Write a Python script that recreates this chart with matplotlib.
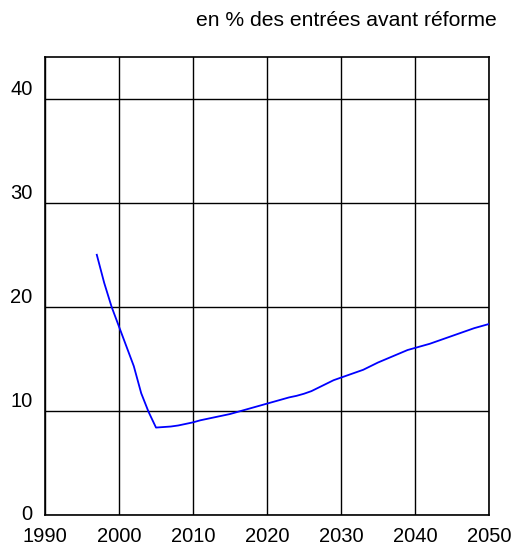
import matplotlib
matplotlib.use("Agg")
import matplotlib.pyplot as plt

# part des entrées (en % des entrées avant réforme)
years = list(range(1997, 2051))
values = [25.0, 22.3, 20.0, 18.1, 16.2, 14.3, 11.7, 9.9, 8.4, 8.45,
          8.5, 8.6, 8.75, 8.9, 9.1, 9.25, 9.4, 9.55, 9.7, 9.9,
          10.1, 10.3, 10.5, 10.7, 10.9, 11.1, 11.3, 11.45, 11.65, 11.9,
          12.25, 12.6, 12.95, 13.2, 13.45, 13.7, 13.95, 14.3, 14.65, 14.95,
          15.25, 15.55, 15.85, 16.05, 16.25, 16.45, 16.7, 16.95, 17.2, 17.45,
          17.7, 17.95, 18.15, 18.35]

xticks = [1990, 2000, 2010, 2020, 2030, 2040, 2050]
yticks = [0, 10, 20, 30, 40]
title = "en % des entrées avant réforme"

plt.rcParams['font.family'] = ['Liberation Sans', 'DejaVu Sans']

W, H = 513, 547
fig = plt.figure(figsize=(W / 100, H / 100), dpi=100)
ax = fig.add_axes([45 / W, (H - 515) / H, 444 / W, (515 - 57) / H])

ax.plot(years, values, color="#0000ff", lw=1.3, zorder=3)

ax.set_xlim(1990, 2050)
ax.set_ylim(0, 44)
ax.set_xticks(xticks)
ax.set_yticks(yticks)
ax.grid(True, color="black", lw=1)
for s in ax.spines.values():
    s.set_color("black")
    s.set_linewidth(1.2)

ax.tick_params(length=0, labelsize=14.5)
ax.tick_params(axis="x", pad=9)
ax.tick_params(axis="y", pad=9)
for lab in ax.get_yticklabels():
    lab.set_va("bottom" if lab.get_text() != "0" else "center")

fig.text(497 / W, 1 - 26 / H, title, ha="right", va="baseline", fontsize=15.2)

fig.savefig("out.png", dpi=100)
